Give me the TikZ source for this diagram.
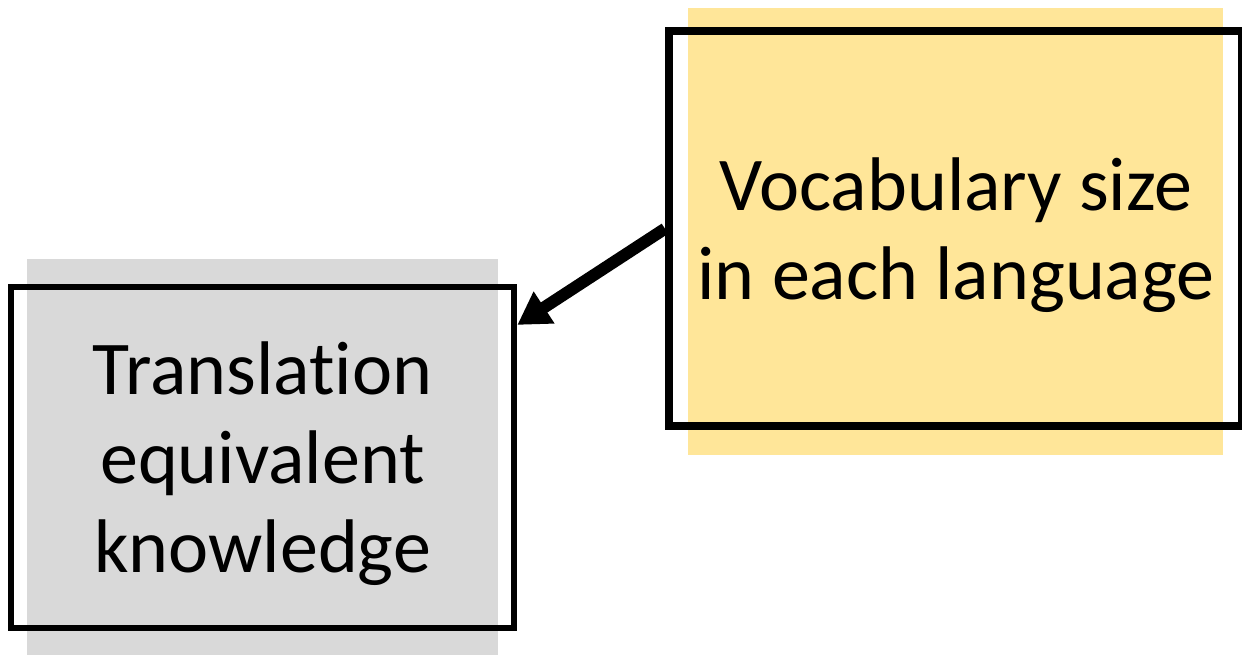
\documentclass[tikz,border=0pt]{standalone}
\usepackage{fontspec}
\setmainfont[Ligatures=NoCommon]{Carlito}
\usetikzlibrary{arrows.meta,calc}
\definecolor{panelgray}{HTML}{D9D9D9}
\definecolor{panelgold}{HTML}{FFE699}
\tikzset{
  outlinebox/.style={draw=black, fill=none, rectangle, inner sep=0pt},
  boxtext/.style={align=center, font=\fontsize{76}{89}\selectfont, inner sep=0pt},
  causal/.style={line width=12pt, -{Triangle[length=32pt,width=36pt]}}
}
\begin{document}
\begin{tikzpicture}[x=1pt,y=-1pt]
  \useasboundingbox (0,0) rectangle (1242,655);
  % shaded backdrops behind the two boxes
  \fill[panelgray] (27,259) rectangle (498,655);
  \fill[panelgold] (688,8) rectangle (1223.3,455);
  % framed boxes
  \node[outlinebox, line width=6pt, minimum width=503.8pt, minimum height=341.3pt]
    (trans) at (262.4,457.6) {};
  \node[outlinebox, line width=8pt, minimum width=572.7pt, minimum height=394.5pt]
    (vocab) at (955.3,228.7) {};
  % labels
  \node[boxtext] (transtext) at (262.5,464) {Translation\\equivalent\\knowledge};
  \node[boxtext] (vocabtext) at (956,235) {Vocabulary size\\in each language};
  % influence arrow
  \draw[causal] (vocab.west) -- ($(trans.north east)!0.118!(trans.south east)$);
\end{tikzpicture}
\end{document}
